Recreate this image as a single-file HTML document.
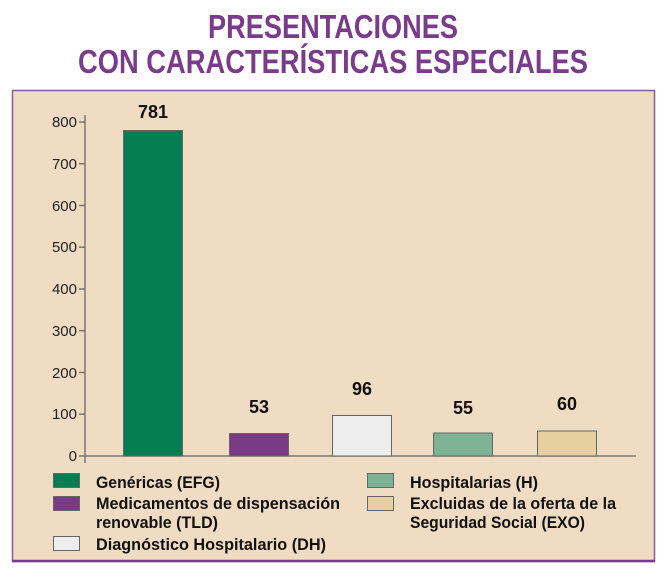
<!DOCTYPE html>
<html><head><meta charset="utf-8"><style>
html,body{margin:0;padding:0;background:#fff;}
svg{display:block;}
text{font-family:"Liberation Sans Narrow","Liberation Sans",sans-serif;font-weight:bold;}
.t{font-family:"Liberation Sans",sans-serif;}
</style></head><body>
<svg width="666" height="575" viewBox="0 0 666 575" xmlns="http://www.w3.org/2000/svg">
<text class="t" x="333" y="38" text-anchor="middle" font-size="33" fill="#7a3b8b" textLength="250" lengthAdjust="spacingAndGlyphs">PRESENTACIONES</text>
<text class="t" x="333" y="73" text-anchor="middle" font-size="33" fill="#7a3b8b" textLength="510" lengthAdjust="spacingAndGlyphs">CON CARACTERÍSTICAS ESPECIALES</text>
<rect x="12.5" y="90.5" width="642" height="471" fill="#f0dcc2" stroke="#8a5a9a" stroke-width="1.5"/>
<line x1="12" y1="561" x2="655" y2="561" stroke="#7a3b8b" stroke-width="2.5"/>
<g stroke="#777" stroke-width="1.5">
<line x1="85" y1="115" x2="85" y2="463"/>
<line x1="85" y1="456" x2="636" y2="456"/>
<line x1="79" y1="122" x2="85" y2="122"/><line x1="79" y1="163.7" x2="85" y2="163.7"/>
<line x1="79" y1="205.5" x2="85" y2="205.5"/><line x1="79" y1="247.2" x2="85" y2="247.2"/>
<line x1="79" y1="289" x2="85" y2="289"/><line x1="79" y1="330.7" x2="85" y2="330.7"/>
<line x1="79" y1="372.5" x2="85" y2="372.5"/><line x1="79" y1="414.2" x2="85" y2="414.2"/>
<line x1="79" y1="456" x2="85" y2="456"/>
</g>
<g font-size="15" fill="#222" text-anchor="end">
<text x="77" y="127" style="font-weight:normal;font-family:'Liberation Sans',sans-serif">800</text>
<text x="77" y="169" style="font-weight:normal;font-family:'Liberation Sans',sans-serif">700</text>
<text x="77" y="211" style="font-weight:normal;font-family:'Liberation Sans',sans-serif">600</text>
<text x="77" y="252" style="font-weight:normal;font-family:'Liberation Sans',sans-serif">500</text>
<text x="77" y="294" style="font-weight:normal;font-family:'Liberation Sans',sans-serif">400</text>
<text x="77" y="336" style="font-weight:normal;font-family:'Liberation Sans',sans-serif">300</text>
<text x="77" y="378" style="font-weight:normal;font-family:'Liberation Sans',sans-serif">200</text>
<text x="77" y="419" style="font-weight:normal;font-family:'Liberation Sans',sans-serif">100</text>
<text x="77" y="461" style="font-weight:normal;font-family:'Liberation Sans',sans-serif">0</text>
</g>
<g stroke="#666" stroke-width="1">
<rect x="123.5" y="130.5" width="59" height="325.5" fill="#047d52"/>
<rect x="229.5" y="433.5" width="59" height="22.5" fill="#7b3a86"/>
<rect x="332.5" y="415.5" width="59" height="40.5" fill="#ecedec"/>
<rect x="433.5" y="433" width="59" height="23" fill="#7eb295"/>
<rect x="537.5" y="431" width="59" height="25" fill="#e6cfa0"/>
</g>
<g class="t" font-size="18" fill="#111" text-anchor="middle">
<text class="t" x="153" y="118">781</text>
<text class="t" x="259" y="413">53</text>
<text class="t" x="362" y="395">96</text>
<text class="t" x="463" y="414">55</text>
<text class="t" x="567" y="410">60</text>
</g>
<g stroke="#666" stroke-width="1">
<rect x="53.5" y="473.5" width="26" height="14" fill="#047d52"/>
<rect x="53.5" y="496.5" width="26" height="14" fill="#7b3a86"/>
<rect x="53.5" y="536.5" width="26" height="14" fill="#ecedec"/>
<rect x="367.5" y="473.5" width="26" height="14" fill="#7eb295"/>
<rect x="367.5" y="496.5" width="26" height="14" fill="#e6cfa0"/>
</g>
<g font-size="17" fill="#111">
<text x="96" y="488" textLength="124" lengthAdjust="spacingAndGlyphs">Genéricas (EFG)</text>
<text x="96" y="509" textLength="244" lengthAdjust="spacingAndGlyphs">Medicamentos de dispensación</text>
<text x="96" y="528" textLength="122" lengthAdjust="spacingAndGlyphs">renovable (TLD)</text>
<text x="96" y="550" textLength="230" lengthAdjust="spacingAndGlyphs">Diagnóstico Hospitalario (DH)</text>
<text x="410" y="488" textLength="128" lengthAdjust="spacingAndGlyphs">Hospitalarias (H)</text>
<text x="410" y="509" textLength="206" lengthAdjust="spacingAndGlyphs">Excluidas de la oferta de la</text>
<text x="410" y="528" textLength="175" lengthAdjust="spacingAndGlyphs">Seguridad Social (EXO)</text>
</g>
</svg>
</body></html>
